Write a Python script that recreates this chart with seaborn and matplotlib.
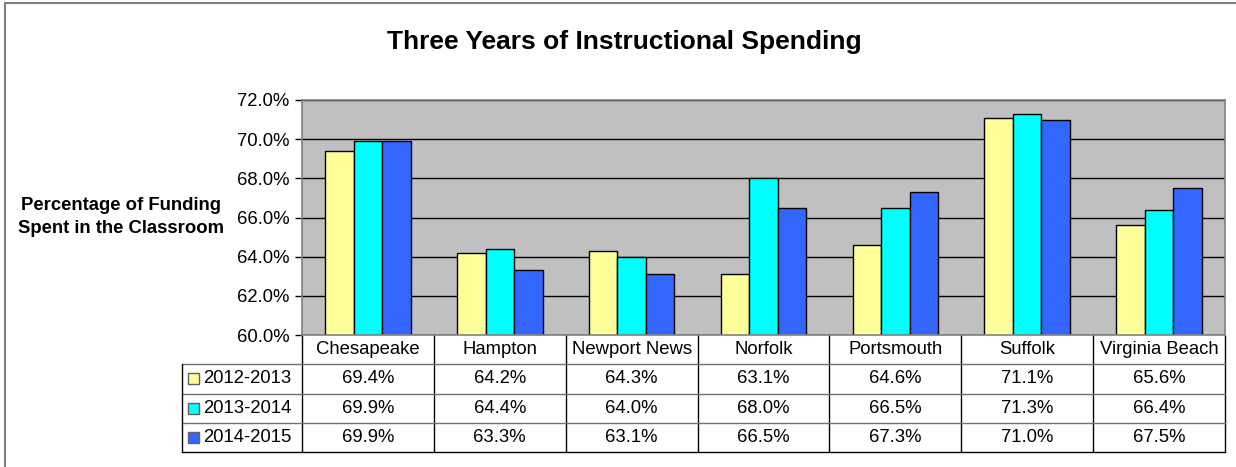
import pandas as pd
import matplotlib.pyplot as plt
import seaborn as sns
from matplotlib.patches import Rectangle
from matplotlib.lines import Line2D
from matplotlib.transforms import blended_transform_factory

# Data
districts = ['Chesapeake', 'Hampton', 'Newport News', 'Norfolk', 'Portsmouth', 'Suffolk', 'Virginia Beach']
years = ['2012-2013', '2013-2014', '2014-2015']
pct_2012 = [69.4, 64.2, 64.3, 63.1, 64.6, 71.1, 65.6]
pct_2013 = [69.9, 64.4, 64.0, 68.0, 66.5, 71.3, 66.4]
pct_2014 = [69.9, 63.3, 63.1, 66.5, 67.3, 71.0, 67.5]
yticks = [60, 62, 64, 66, 68, 70, 72]
colors = ['#FFFF99', '#00FFFF', '#3366FF']

series = [pct_2012, pct_2013, pct_2014]
df = pd.DataFrame({
    'District': districts * 3,
    'Year': [y for y in years for _ in districts],
    'Pct': pct_2012 + pct_2013 + pct_2014,
})

sns.set_style('white')
plt.rcParams['font.family'] = ['Liberation Sans', 'DejaVu Sans']
plt.rcParams['text.color'] = 'black'
plt.rcParams['ytick.color'] = 'black'

W, H = 1236, 467
fig = plt.figure(figsize=(W / 100, H / 100), dpi=100)
ax = fig.add_axes([302 / W, 1 - 335 / H, 923 / W, 235 / H])
ax.set_facecolor('#C0C0C0')

sns.barplot(data=df, x='District', y='Pct', hue='Year', palette=colors, saturation=1,
            width=0.65, edgecolor='black', linewidth=1, ax=ax, legend=False)

ax.set_xlim(-0.5, len(districts) - 0.5)
ax.set_ylim(60, 72)
ax.set_yticks(yticks)
ax.set_yticklabels([f'{t:.1f}%' for t in yticks], fontsize=13.3, color='black')
ax.yaxis.grid(True, color='black', linewidth=1)
ax.set_axisbelow(True)
ax.tick_params(axis='y', left=True, length=5, width=1, color='black', pad=4)
ax.tick_params(axis='x', bottom=False, labelbottom=False)
ax.set_xlabel('')
ax.set_ylabel('')
for s in ax.spines.values():
    s.set_color('#808080')
    s.set_linewidth(1.2)

# Data table under the plot
tr = blended_transform_factory(ax.transData, ax.transAxes)
row_h = 117 / 4 / 235
left = -120 / 923
fs = 13.3
for i, name in enumerate(districts):
    ax.text(i, -0.5 * row_h, name, transform=tr, ha='center', va='center', fontsize=fs)
    for r, vals in enumerate(series):
        ax.text(i, -(r + 1.5) * row_h, f'{vals[i]:.1f}%', transform=tr,
                ha='center', va='center', fontsize=fs)
for i in range(len(districts) + 1):
    ax.add_line(Line2D([i - 0.5, i - 0.5], [0, -4 * row_h], transform=tr,
                       color='black', lw=1, clip_on=False))
for r in range(1, 4):
    ax.add_line(Line2D([left, 1], [-r * row_h, -r * row_h], transform=ax.transAxes,
                       color='#707070', lw=1, clip_on=False))
ax.add_line(Line2D([left, 1], [-4 * row_h, -4 * row_h], transform=ax.transAxes,
                   color='black', lw=1, clip_on=False))
ax.add_line(Line2D([left, left], [-row_h, -4 * row_h], transform=ax.transAxes,
                   color='black', lw=1, clip_on=False))
for r, (yr, c) in enumerate(zip(years, colors)):
    yc = -(r + 1.5) * row_h
    ax.add_patch(Rectangle((-114 / 923, yc - 5.5 / 235), 11 / 923, 11 / 235,
                           transform=ax.transAxes, facecolor=c, edgecolor='#606060',
                           lw=1, clip_on=False))
    ax.text(-99 / 923, yc, yr, transform=ax.transAxes, ha='left', va='center', fontsize=fs)

fig.text(624 / W, 1 - 42 / H, 'Three Years of Instructional Spending',
         ha='center', va='center', fontsize=19, fontweight='bold')
fig.text(121 / W, 1 - 217 / H, 'Percentage of Funding\nSpent in the Classroom',
         ha='center', va='center', fontsize=13.3, fontweight='bold', linespacing=1.5)

# outer chart border (left and top)
fig.add_artist(Line2D([5 / W, 5 / W], [0, 1 - 3 / H], transform=fig.transFigure,
                      color='#808080', lw=1.5))
fig.add_artist(Line2D([5 / W, 1], [1 - 3 / H, 1 - 3 / H], transform=fig.transFigure,
                      color='#808080', lw=1.5))

fig.savefig('out.png', dpi=100)
